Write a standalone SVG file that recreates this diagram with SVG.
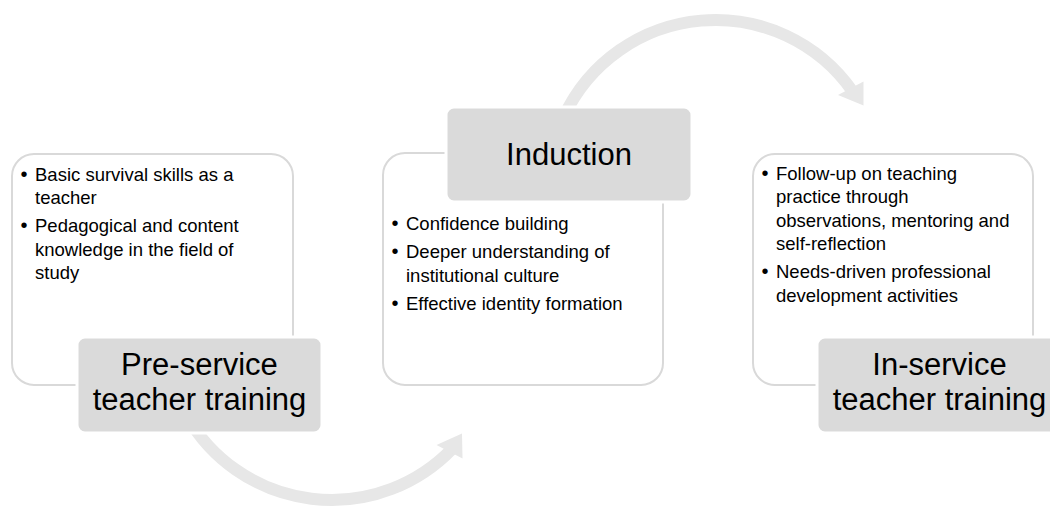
<svg xmlns="http://www.w3.org/2000/svg" width="1050" height="507" viewBox="0 0 1050 507">
  <style>
    .box { fill: #ffffff; stroke: #d9d9d9; stroke-width: 2; }
    .label { fill: #dadada; stroke: #ffffff; stroke-width: 3; }
    .arc { fill: none; stroke: #e7e7e7; stroke-width: 12; }
    .head { fill: #e7e7e7; stroke: none; }
    text { font-family: "Liberation Sans", Arial, sans-serif; fill: #000000; }
    .title { font-size: 31px; text-anchor: middle; }
    .body { font-size: 18.5px; }
    .bul { font-size: 20px; text-anchor: middle; }
  </style>
  <rect width="1050" height="507" fill="#ffffff"/>

  <g id="connectors">
    <path class="arc" d="M187,416.43 A167.15,167.15 0 0 0 451.98,448.96"/>
    <polygon class="head" points="462,433.5 436.5,445 462.5,458.5"/>
    <path class="arc" d="M563.88,116.6 A167.3,167.3 0 0 1 852.55,91.34"/>
    <polygon class="head" points="838,95 863.5,81.5 863.5,105.5"/>
  </g>

  <g id="node-preservice">
    <rect class="box" x="12" y="154" width="281" height="231" rx="22"/>
    <text class="bul" x="24" y="180.5">•</text>
    <text class="body" x="35" y="180.5">Basic survival skills as a</text>
    <text class="body" x="35" y="204">teacher</text>
    <text class="bul" x="24" y="232">•</text>
    <text class="body" x="35" y="232">Pedagogical and content</text>
    <text class="body" x="35" y="255.5">knowledge in the field of</text>
    <text class="body" x="35" y="279">study</text>
    <rect class="label" x="77" y="337" width="245" height="96" rx="8"/>
    <text class="title" x="199.5" y="375">Pre-service</text>
    <text class="title" x="199.5" y="410">teacher training</text>
  </g>

  <g id="node-induction">
    <rect class="box" x="383" y="153" width="280" height="232" rx="22"/>
    <rect class="label" x="446" y="107" width="246" height="95" rx="8"/>
    <text class="title" x="569" y="165">Induction</text>
    <text class="bul" x="395" y="230">•</text>
    <text class="body" x="406" y="230">Confidence building</text>
    <text class="bul" x="395" y="258.3">•</text>
    <text class="body" x="406" y="258.3">Deeper understanding of</text>
    <text class="body" x="406" y="281.7">institutional culture</text>
    <text class="bul" x="395" y="310">•</text>
    <text class="body" x="406" y="310">Effective identity formation</text>
  </g>

  <g id="node-inservice">
    <rect class="box" x="753" y="154" width="280" height="231" rx="22"/>
    <text class="bul" x="765" y="180">•</text>
    <text class="body" x="776" y="180">Follow-up on teaching</text>
    <text class="body" x="776" y="203.3">practice through</text>
    <text class="body" x="776" y="226.6">observations, mentoring and</text>
    <text class="body" x="776" y="249.9">self-reflection</text>
    <text class="bul" x="765" y="278.2">•</text>
    <text class="body" x="776" y="278.2">Needs-driven professional</text>
    <text class="body" x="776" y="301.5">development activities</text>
    <rect class="label" x="817" y="337" width="245" height="96" rx="8"/>
    <text class="title" x="939.5" y="375">In-service</text>
    <text class="title" x="939.5" y="410">teacher training</text>
  </g>
</svg>
